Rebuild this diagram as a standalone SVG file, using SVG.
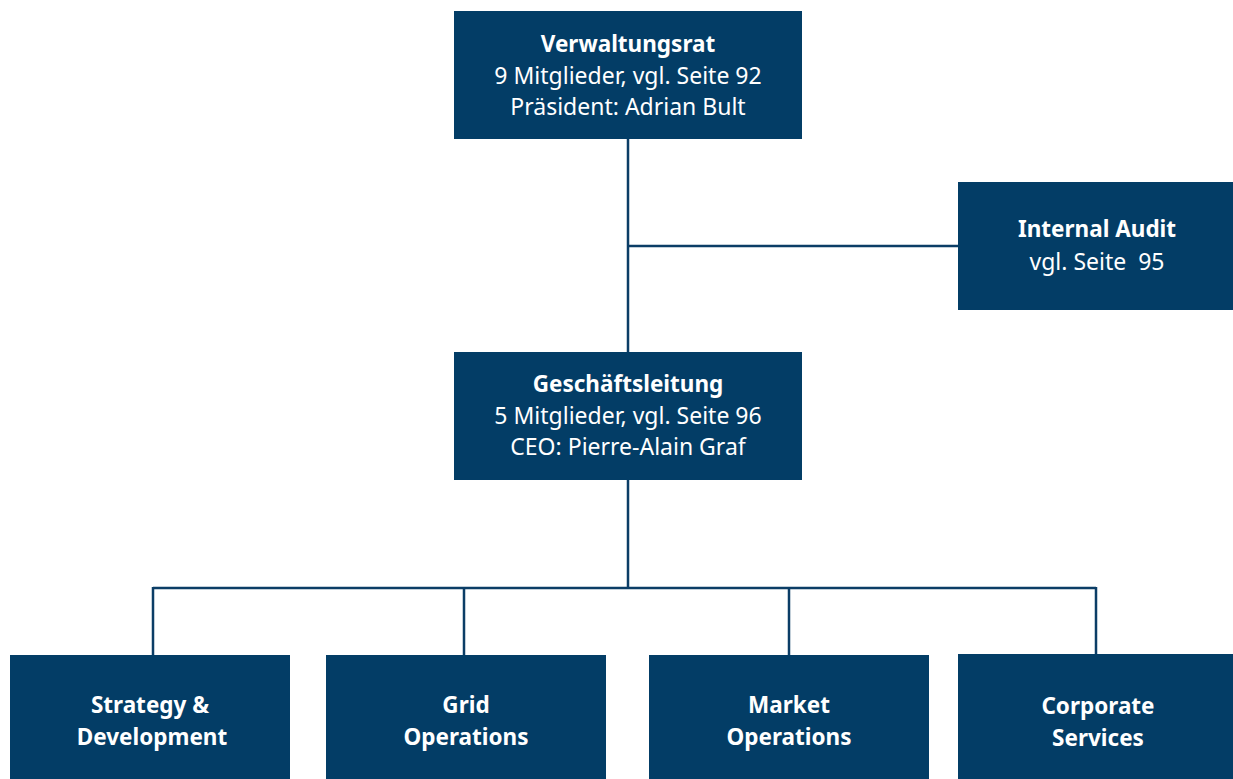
<svg xmlns="http://www.w3.org/2000/svg" width="1233" height="779" viewBox="0 0 1233 779">
<style>
.box{fill:#033d66}
.t{font-family:"Noto Sans","Liberation Sans",sans-serif;font-size:23px;fill:#ffffff;text-anchor:middle}
.b{font-weight:bold;font-size:22.5px}
.c{stroke:#0b3d66;stroke-width:2.5;fill:none}
</style>
<rect width="1233" height="779" fill="#ffffff"/>
<g id="connectors">
<path class="c" d="M628 139V352M628 246H958M628 480V588M153 588H1096M153 587V655M464 587V655M789 587V655M1096 587V654"/>
</g>
<g id="verwaltungsrat">
<rect class="box" x="454" y="11" width="348" height="128"/>
<text class="t b" x="628" y="52">Verwaltungsrat</text>
<text class="t" x="628" y="84">9 Mitglieder, vgl. Seite 92</text>
<text class="t" x="628" y="115">Präsident: Adrian Bult</text>
</g>
<g id="internal-audit">
<rect class="box" x="958" y="182" width="275" height="128"/>
<text class="t b" x="1097" y="237">Internal Audit</text>
<text class="t" x="1097" y="270" xml:space="preserve">vgl. Seite  95</text>
</g>
<g id="geschaeftsleitung">
<rect class="box" x="454" y="352" width="348" height="128"/>
<text class="t b" x="628" y="392">Geschäftsleitung</text>
<text class="t" x="628" y="424">5 Mitglieder, vgl. Seite 96</text>
<text class="t" x="628" y="455">CEO: Pierre-Alain Graf</text>
</g>
<g id="strategy">
<rect class="box" x="10" y="655" width="280" height="124"/>
<text class="t b" x="150" y="713">Strategy &amp;</text>
<text class="t b" x="152" y="745">Development</text>
</g>
<g id="grid">
<rect class="box" x="326" y="655" width="280" height="124"/>
<text class="t b" x="466" y="713">Grid</text>
<text class="t b" x="466" y="745">Operations</text>
</g>
<g id="market">
<rect class="box" x="649" y="655" width="280" height="124"/>
<text class="t b" x="789" y="713">Market</text>
<text class="t b" x="789" y="745">Operations</text>
</g>
<g id="corporate">
<rect class="box" x="958" y="654" width="275" height="125"/>
<text class="t b" x="1098" y="714">Corporate</text>
<text class="t b" x="1098" y="746">Services</text>
</g>
</svg>
